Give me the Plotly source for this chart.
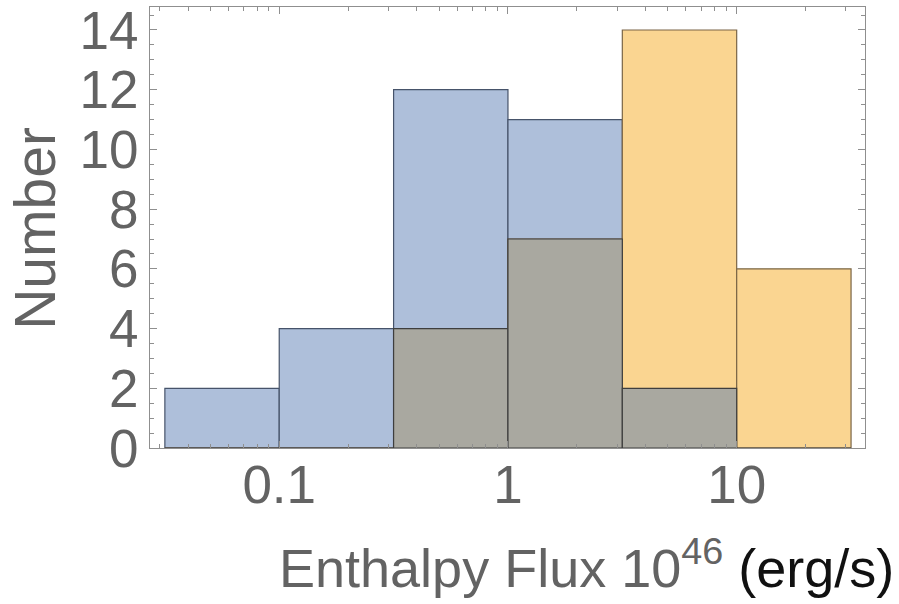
import numpy as np
import plotly.graph_objects as go

# bin edges (log10 of enthalpy flux, units of 1e46 erg/s)
bin_edges_log10 = [-1.5, -1.0, -0.5, 0.0, 0.5, 1.0, 1.5]
blue_counts = [2, 4, 12, 11, 2, 0]
orange_counts = [0, 0, 4, 7, 14, 6]
x_tick_vals = [0.1, 1, 10]
x_tick_text = ["0.1", "1", "10"]
y_tick_vals = [0, 2, 4, 6, 8, 10, 12, 14]

centers = [(a + b) / 2 for a, b in zip(bin_edges_log10[:-1], bin_edges_log10[1:])]
widths = [b - a for a, b in zip(bin_edges_log10[:-1], bin_edges_log10[1:])]
overlap = [min(b, o) for b, o in zip(blue_counts, orange_counts)]

BLUE = "#aebfda"
ORANGE = "#fad591"
GRAY = "#a9a8a0"
TXT = "#636363"
FRAME = "#8f8f8f"

fig = go.Figure()
fig.add_trace(go.Bar(x=centers, y=blue_counts, width=widths,
                     marker=dict(color=BLUE, line=dict(color="#46536a", width=1.2))))
fig.add_trace(go.Bar(x=centers, y=orange_counts, width=widths,
                     marker=dict(color=ORANGE, line=dict(color="#7a6546", width=1.2))))
fig.add_trace(go.Bar(x=centers, y=overlap, width=widths,
                     marker=dict(color=GRAY, line=dict(color="#3e3e3e", width=1.2))))

minor_x = []
for n in range(-2, 2):
    for k in range(2, 10):
        v = np.log10(k * 10.0 ** n)
        if -1.565 < v < 1.561:
            minor_x.append(float(v))

fig.update_layout(
    barmode="overlay",
    showlegend=False,
    width=899, height=604,
    margin=dict(l=150, r=34, t=7, b=156, autoexpand=False),
    plot_bgcolor="white", paper_bgcolor="white",
    font=dict(family="Liberation Sans, Arial, sans-serif", color=TXT),
    xaxis=dict(
        range=[-1.565, 1.561],
        tickvals=[float(np.log10(v)) for v in x_tick_vals],
        ticktext=x_tick_text,
        tickfont=dict(size=53, color=TXT),
        ticks="inside", ticklen=7, tickcolor=FRAME,
        showline=True, linecolor=FRAME, linewidth=1, mirror="allticks",
        showgrid=False, zeroline=False,
        ticklabelstandoff=-10,
        minor=dict(tickvals=minor_x, ticks="inside", ticklen=4, tickcolor=FRAME, showgrid=False),
    ),
    yaxis=dict(
        range=[0, 14.77],
        tickvals=y_tick_vals,
        tickfont=dict(size=53, color=TXT),
        ticks="inside", ticklen=7, tickcolor=FRAME,
        showline=True, linecolor=FRAME, linewidth=1, mirror="allticks",
        showgrid=False, zeroline=False,
        ticklabelstandoff=0,
        minor=dict(dtick=0.5, ticks="inside", ticklen=4, tickcolor=FRAME, showgrid=False),
    ),
    annotations=[
        dict(text="Number", textangle=-90, xref="paper", yref="paper",
             x=-0.161, y=0.499, xanchor="center", yanchor="middle",
             showarrow=False, font=dict(size=57, color=TXT)),
        dict(text="Enthalpy Flux 10<sup>46</sup> <span style=\"color:#111111\">(erg/s)</span>",
             xref="paper", yref="paper", x=0.611, y=-0.262,
             xanchor="center", yanchor="middle",
             showarrow=False, font=dict(size=54, color=TXT)),
    ],
)

fig.write_html("out.html")
